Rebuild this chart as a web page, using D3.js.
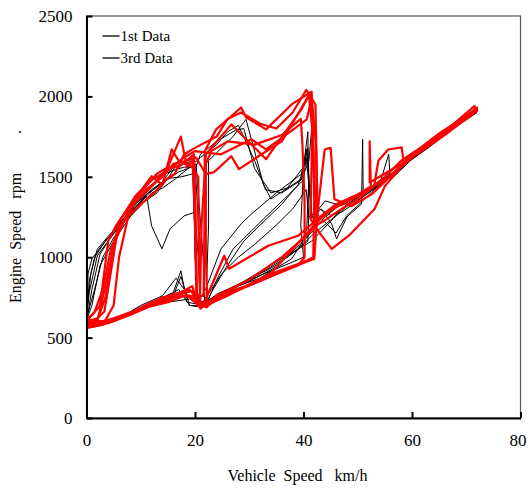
<!DOCTYPE html>
<html>
<head>
<meta charset="utf-8">
<script src="https://cdn.jsdelivr.net/npm/d3@7"></script>
<style>
  body { margin: 0; background: #fff; }
  svg text { font-family: "Liberation Serif", "Times New Roman", serif; }
</style>
</head>
<body>
<svg width="528" height="489"></svg>
<script>
// axis ticks
var xTicks = [0, 20, 40, 60, 80];
var yTicks = [0, 500, 1000, 1500, 2000, 2500];
var seriesNames = ["1st Data", "3rd Data"];

// 1st Data (black), each trace is [vehicle speed km/h, engine speed rpm]
var black1 = [[0,620],[0.5,780],[2,1010],[4.3,1115],[7.6,1257],[11.1,1380],[12,1195],[13.9,1052],[15.4,1176],[18,1257],[20,1280],[20.6,1000],[21,720],[23,740],[27,810],[32,870],[37.8,990],[39.6,1083],[40.6,1176],[41,1500],[40.8,1680],[39.6,1486],[34,1362],[32.6,1455],[29.4,1857],[27,1750],[24,1650],[22.5,1600],[22.5,1200],[22,700],[18.5,720],[17.4,916],[16,780],[12,720],[8,650],[4,600],[0,610]];
var black2 = [[0,600],[0.3,900],[1,990],[3,1080],[6,1200],[9,1330],[12,1420],[14,1470],[16,1560],[18,1580],[19.5,1600],[20,1100],[20.3,700],[22,805],[24.8,1052],[28.5,1207],[30.4,1269],[35,1400],[39.6,1517],[40.6,1671],[41.2,1400],[41.5,1240],[43.3,1300],[45.2,1207],[46.1,1114],[48,1250],[50.7,1331],[50.9,1733],[51,1380],[54,1450],[55.7,1640],[56,1480],[60,1610],[65,1740],[72,1900],[70,1860],[63,1680],[58,1560],[53,1440],[48,1360],[44,1250],[40,1100],[35,940],[30,850],[25,780],[21,700],[19,740],[15,720],[10,680],[5,600],[0,580]];
var black3 = [[0,610],[1,700],[2.5,950],[5,1100],[8,1250],[10,1330],[13,1400],[15.4,1510],[17,1600],[19,1560],[20.2,1580],[21.5,1000],[21.8,690],[23,780],[26,950],[29,1100],[32,1200],[36,1330],[39,1450],[40,1550],[39.5,1200],[40,1000],[38,970],[33,900],[28,830],[24,770],[21,690],[19,700],[17.4,880],[16,760],[12,700],[8,640],[3,590],[0,600]];
var black4 = [[0,620],[1.5,800],[3,1000],[5,1120],[7,1220],[10,1320],[12,1400],[14,1430],[16.5,1490],[19,1560],[21,1620],[24,1700],[26,1780],[28,1820],[31,1600],[33,1420],[36,1400],[39.6,1480],[41,1600],[41.5,1800],[42,1300],[43,1250],[46,1150],[48,1260],[50,1320],[53,1420],[57,1540],[62,1680],[67,1800],[71,1900],[68,1830],[62,1670],[57,1520],[52,1410],[48,1330],[45,1230],[42,1150],[39,1050],[35,950],[31,880],[27,810],[23,740],[20.5,700],[20,750],[16,760],[13,730],[9,660],[5,600],[0,600]];
var black5 = [[0,630],[0.8,900],[2,1050],[4,1130],[7,1240],[9.5,1350],[12.5,1450],[14.5,1520],[16,1540],[18,1560],[20.2,1560],[21,1640],[24,1720],[27.5,1790],[29,1800],[31,1550],[34,1400],[37,1430],[40,1560],[40.8,1780],[41,1300],[40.8,1100],[37,1000],[33,920],[28,820],[23,730],[21,680],[20.5,780],[18,800],[16.5,870],[14,760],[10,700],[6,620],[2,580],[0,590]];
var black6 = [[0,610],[0.5,850],[1.5,1000],[3.5,1100],[6.5,1230],[10,1350],[13,1440],[15,1490],[17.5,1500],[19.8,1520],[20,1000],[20.5,740],[22,700],[24,860],[27,1050],[30,1150],[33,1250],[37,1380],[40,1480],[40.5,1620],[41,1450],[41.6,1250],[44,1350],[47,1320],[50,1380],[55,1480],[60,1620],[66,1790],[72,1910]];
var black7 = [[0,600],[1,800],[2.5,1020],[5,1150],[8,1270],[11,1390],[14,1460],[17,1530],[20,1570],[20.5,1300],[21,700],[25,900],[28,1000],[31,1080],[35,1200],[38,1300],[40.5,1420],[41,1250],[43,1300],[45,1260],[47,1280],[50,1350],[54,1450],[58,1560],[63,1700],[69,1860],[72,1920],[69.5,1860],[64,1720],[59,1590],[54.5,1480],[50,1380],[45.5,1240],[41.5,1100],[38,1030],[34,950],[29,850],[25,780],[21.5,700],[19,700],[17,800],[14,740],[10,690],[6,620],[2,580],[0,590]];

// 3rd Data (red)
var red1 = [[0,860],[0,600],[1.5,660],[3,800],[4.5,1050],[6,1180],[9,1340],[12,1440],[15,1560],[17.4,1750],[18.5,1560],[19.6,1600],[20,1200],[20.3,720],[22,690],[26,780],[30,830],[35,910],[40,970],[41.8,1000],[42,1400],[41.5,2030],[37.8,1950],[33.1,1795],[29.4,1870],[28.5,1931],[23.9,1795],[21.8,1660],[21.8,1400],[21.6,760],[18,760],[15,720],[10,680],[5,620],[2,590],[0,570]];
var red2 = [[0,600],[2,620],[3.3,662],[5.7,1157],[8.9,1361],[12,1504],[14,1450],[15.7,1671],[17,1600],[19,1580],[20.6,1500],[20.8,900],[21,700],[25,760],[29.8,823],[35.9,910],[42,990],[42.6,1300],[42.2,1950],[41.1,2012],[39.6,1919],[33.1,1610],[26.7,1826],[22,1640],[21.2,1200],[20.9,720],[19,800],[16,770],[12,720],[8,650],[4,600],[0,580]];
var red3 = [[0,590],[2,600],[4,900],[6,1220],[9,1380],[12,1480],[15,1540],[18,1620],[20,1660],[24.8,1640],[30.4,1733],[33.1,1671],[36.9,1764],[40.6,1857],[41.5,1990],[42.3,1700],[42.5,1250],[43.9,1670],[45,1680],[45.7,1361],[48.9,1318],[52.6,1392],[55,1470],[60,1640],[65,1770],[70,1880],[72,1930],[71.5,1910],[66,1780],[62,1690],[58,1600],[55,1500],[52,1420],[48,1350],[45,1300],[42,1200],[38,1050],[34,900],[30,830],[26,760],[22,700],[20.5,700],[19.5,820],[15,740],[10,680],[5,610],[0,590]];
var red4 = [[0,560],[3,580],[5,700],[6,1000],[8,1300],[11,1420],[14,1500],[16,1580],[18.5,1600],[20.2,1620],[22,1517],[23.5,1529],[26.7,1628],[28.1,1548],[31.7,1628],[36,1720],[40,1950],[41,2010],[41.6,1800],[41.3,1238],[43,1150],[45.2,1052],[48.3,1132],[53.1,1300],[55,1442],[58,1560],[62,1680],[68,1830],[72,1920],[71,1900],[64,1720],[58,1580],[52.2,1465],[52.2,1720],[52.4,1440],[50,1390],[46,1330],[43,1250],[39,1133],[33.5,1071],[28.5,972],[26.3,928],[25.4,1009],[22,740],[21.5,700],[20,720],[18,780],[15,730],[12,700],[8,640],[4,590],[0,570]];
var red5 = [[0,620],[1,640],[2.5,700],[4,1100],[5.5,1200],[8,1320],[10,1400],[13,1520],[15,1560],[17,1560],[19.8,1640],[20.1,1300],[20.4,700],[24,740],[29,810],[34,880],[39,950],[40.2,1000],[40.2,1350],[39.8,1700],[39.5,1860],[36,1760],[31,1700],[26,1720],[23,1660],[22,1580],[22,1000],[22.3,690],[19,760],[14,750],[9,660],[4,600],[0,590]];
var red6 = [[0,600],[2,610],[3.5,750],[5,1080],[7,1230],[10,1330],[12.5,1400],[14.5,1480],[16.3,1520],[18,1640],[20,1680],[24,1750],[26,1860],[28.5,1900],[32,1830],[35,1800],[38,1900],[40.5,2040],[41.5,1990],[42,1500],[42.4,1200],[44,1230],[47,1300],[50,1360],[53,1440],[53.8,1600],[55.6,1670],[58.1,1683],[58.5,1578],[61,1660],[66,1780],[71.5,1940],[72,1910],[66,1760],[60,1620],[55,1480],[50,1380],[46,1310],[43,1240],[41,1150],[36,1000],[30,860],[24,760],[21,680],[19.5,790],[16,760],[12,700],[7,630],[3,580],[0,560]];

var firstData = [black1, black2, black3, black4, black5, black6, black7];
var thirdData = [red1, red2, red3, red4, red5, red6];

var svg = d3.select("svg");
var margin = {left: 86.5, right: 7.5, top: 16, bottom: 71};
var width = 528 - margin.left - margin.right,
    height = 489 - margin.top - margin.bottom;

var x = d3.scaleLinear().domain([0, 80]).range([0, width]);
var y = d3.scaleLinear().domain([0, 2500]).range([height, 0]);

var g = svg.append("g")
  .attr("transform", "translate(" + margin.left + "," + margin.top + ")");

g.append("clipPath").attr("id", "plot")
  .append("rect").attr("width", width).attr("height", height);

var line = d3.line()
  .x(d => x(d[0]))
  .y(d => y(d[1]));

var plot = g.append("g").attr("clip-path", "url(#plot)");

plot.selectAll(".first")
  .data(firstData)
  .enter().append("path")
  .attr("class", "first")
  .attr("d", line)
  .attr("fill", "none")
  .attr("stroke", "#000")
  .attr("stroke-width", 1)
  .attr("stroke-linejoin", "round");

plot.selectAll(".third")
  .data(thirdData)
  .enter().append("path")
  .attr("class", "third")
  .attr("d", line)
  .attr("fill", "none")
  .attr("stroke", "#ff0000")
  .attr("stroke-width", 2.2)
  .attr("stroke-linejoin", "round");

// frame
g.append("rect")
  .attr("width", width).attr("height", height)
  .attr("fill", "none").attr("stroke", "#555").attr("stroke-width", 1.2);

// axes with inward ticks
var xAxis = g.append("g")
  .attr("transform", "translate(0," + height + ")")
  .call(d3.axisBottom(x).tickValues(xTicks).tickFormat(d3.format("d"))
    .tickSizeInner(-6).tickSizeOuter(0).tickPadding(16));
var yAxis = g.append("g")
  .call(d3.axisLeft(y).tickValues(yTicks).tickFormat(d3.format("d"))
    .tickSizeInner(-6).tickSizeOuter(0).tickPadding(14));

[xAxis, yAxis].forEach(function(a) {
  a.attr("font-family", null);
  a.select(".domain").attr("stroke", "#000").attr("stroke-width", 2);
  a.selectAll(".tick line").attr("stroke", "#000").attr("stroke-width", 2);
  a.selectAll(".tick text")
    .style("font-family", "'Liberation Serif', serif")
    .style("font-size", "17px")
    .attr("fill", "#000");
});

// keep the last x label inside the page
xAxis.selectAll(".tick text").filter(d => d === 80).attr("dx", -3);

// axis titles
svg.append("text")
  .attr("x", margin.left + width / 2 - 6)
  .attr("y", 481)
  .attr("text-anchor", "middle")
  .style("font-size", "16px")
  .attr("xml:space", "preserve")
  .text("Vehicle  Speed   km/h");

svg.append("text")
  .attr("transform", "translate(21,238) rotate(-90)")
  .attr("text-anchor", "middle")
  .style("font-size", "16px")
  .attr("xml:space", "preserve")
  .text("Engine  Speed   rpm");

svg.append("text")
  .attr("transform", "translate(21,132) rotate(-90)")
  .attr("text-anchor", "middle")
  .style("font-size", "16px")
  .text(".");

// legend
var legend = g.selectAll(".legend")
  .data(seriesNames)
  .enter().append("g")
  .attr("class", "legend")
  .attr("transform", (d, i) => "translate(16," + (20 + i * 22) + ")");

legend.append("line")
  .attr("x1", 0).attr("x2", 17)
  .attr("stroke", "#000").attr("stroke-width", 1.3);

legend.append("text")
  .attr("x", 18)
  .attr("dy", "0.35em")
  .style("font-size", "15px")
  .text(d => d);
</script>
</body>
</html>
